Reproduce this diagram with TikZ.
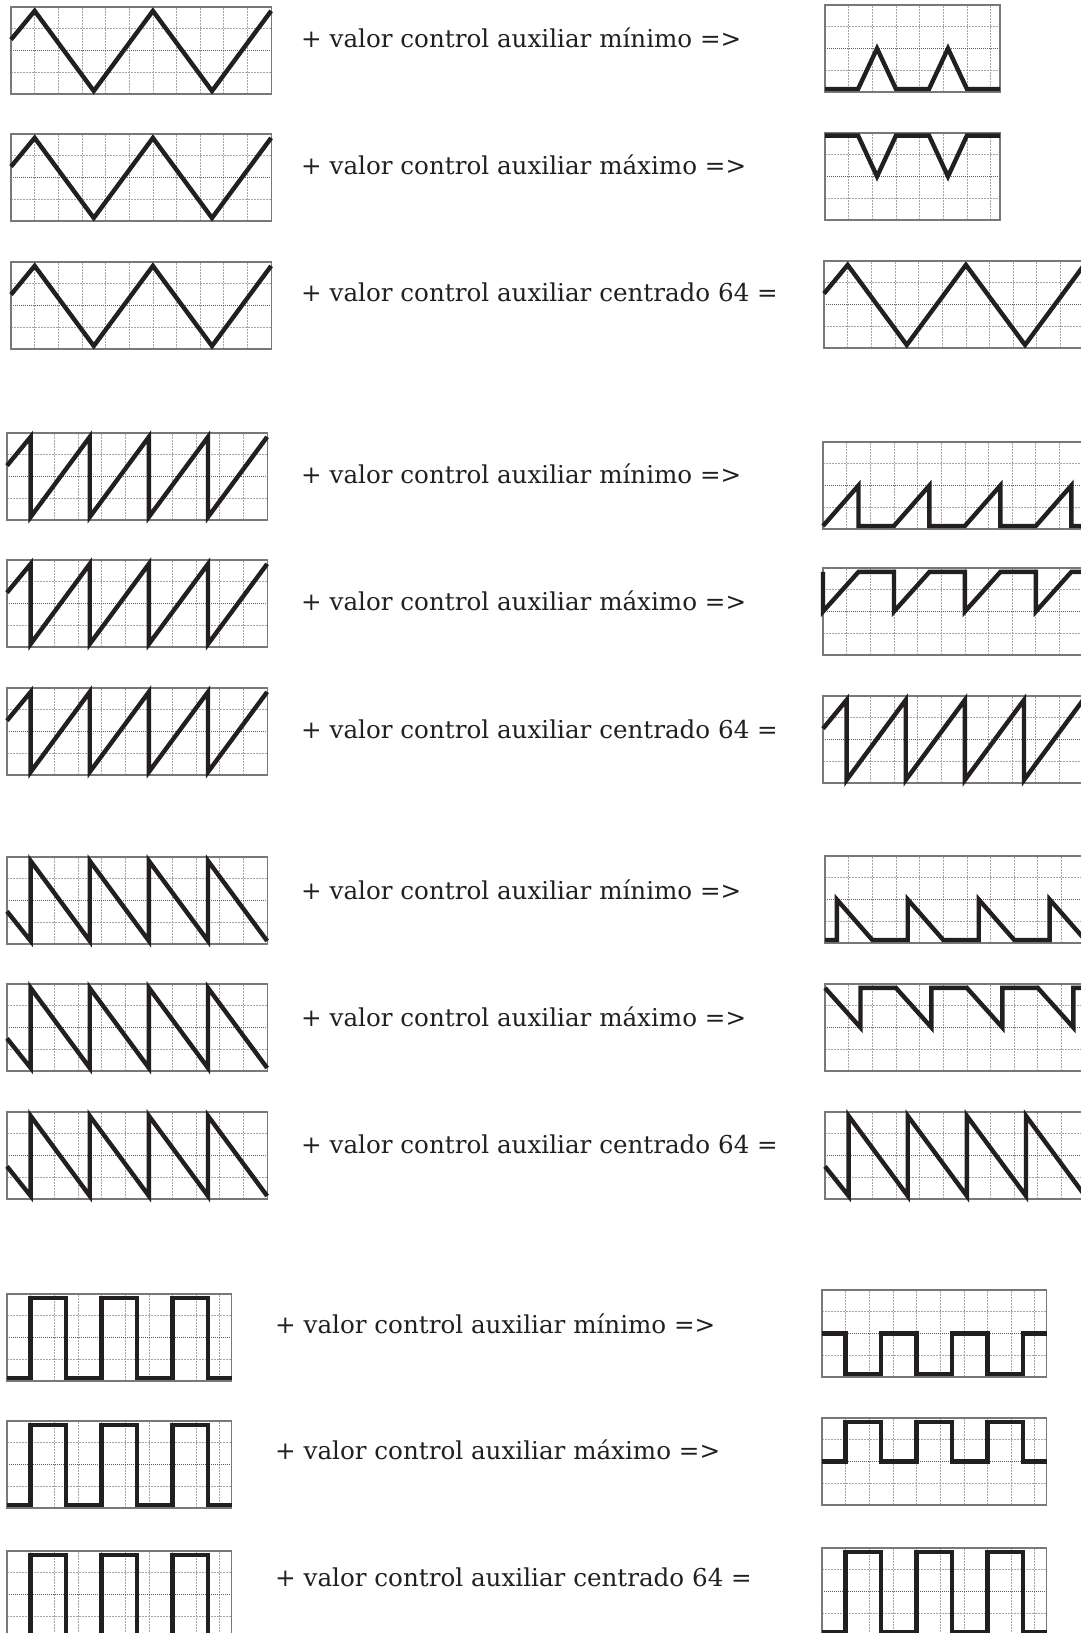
\documentclass[tikz,border=0pt]{standalone}
\usepackage{fontspec}
\setmainfont{DejaVu Serif}
\usetikzlibrary{positioning}
\definecolor{gridc}{RGB}{165,165,165}
\definecolor{midc}{RGB}{90,90,90}
\definecolor{framec}{RGB}{120,120,120}
\definecolor{wavec}{RGB}{35,31,32}
\tikzset{
  gridline/.style={gridc,line width=0.8pt,dash pattern=on 2pt off 1pt},
  gridmid/.style={midc,line width=0.9pt,dash pattern=on 1pt off 1pt},
  frame/.style={framec,line width=1.2pt},
  wave/.style={wavec,line width=4.4pt,line join=miter},
  lbl/.style={anchor=base west,inner sep=0pt,text=wavec,
    font=\fontsize{24.6}{29}\selectfont},
}
\newcommand{\wvhi}{3.82}
\newcommand{\wvlo}{0.14}
% waves, in grid units (x = columns, y = rows from the bottom)
\newcommand{\wtri}{(0,2.5) -- (1,\wvhi) -- (3.5,\wvlo) -- (6,\wvhi) -- (8.5,\wvlo) -- (11,\wvhi)}
\newcommand{\wtrimin}{(0,\wvlo) -- (1.4,\wvlo) -- (2.2,2) -- (3,\wvlo) -- (4.4,\wvlo) -- (5.2,2) -- (6,\wvlo) -- (7.4,\wvlo)}
\newcommand{\wtrimax}{(0,3.88) -- (1.4,3.88) -- (2.2,2) -- (3,3.88) -- (4.4,3.88) -- (5.2,2) -- (6,3.88) -- (7.4,3.88)}
\newcommand{\wsaw}{(0,2.5) -- (1,\wvhi) -- (1,\wvlo) -- (3.5,\wvhi) -- (3.5,\wvlo) -- (6,\wvhi) -- (6,\wvlo) -- (8.5,\wvhi) -- (8.5,\wvlo) -- (11,\wvhi)}
\newcommand{\wsawmin}{(0,\wvlo) -- (1.5,2) -- (1.5,\wvlo) -- (3,\wvlo) -- (4.5,2) -- (4.5,\wvlo) -- (6,\wvlo) -- (7.5,2) -- (7.5,\wvlo) -- (9,\wvlo) -- (10.5,2) -- (10.5,\wvlo) -- (11,\wvlo)}
\newcommand{\wsawmax}{(0,\wvhi) -- (0,2) -- (1.5,\wvhi) -- (3,\wvhi) -- (3,2) -- (4.5,\wvhi) -- (6,\wvhi) -- (6,2) -- (7.5,\wvhi) -- (9,\wvhi) -- (9,2) -- (10.5,\wvhi) -- (11,\wvhi)}
\newcommand{\wramp}{(0,1.5) -- (1,\wvlo) -- (1,\wvhi) -- (3.5,\wvlo) -- (3.5,\wvhi) -- (6,\wvlo) -- (6,\wvhi) -- (8.5,\wvlo) -- (8.5,\wvhi) -- (11,\wvlo)}
\newcommand{\wrampmin}{(0,\wvlo) -- (0.5,\wvlo) -- (0.5,2) -- (2,\wvlo) -- (3.5,\wvlo) -- (3.5,2) -- (5,\wvlo) -- (6.5,\wvlo) -- (6.5,2) -- (8,\wvlo) -- (9.5,\wvlo) -- (9.5,2) -- (11,\wvlo)}
\newcommand{\wrampmax}{(0,\wvhi) -- (1.5,2) -- (1.5,\wvhi) -- (3,\wvhi) -- (4.5,2) -- (4.5,\wvhi) -- (6,\wvhi) -- (7.5,2) -- (7.5,\wvhi) -- (9,\wvhi) -- (10.5,2) -- (10.5,\wvhi) -- (11,\wvhi)}
\newcommand{\wsq}{(0,\wvlo) -- (1,\wvlo) -- (1,\wvhi) -- (2.5,\wvhi) -- (2.5,\wvlo) -- (4,\wvlo) -- (4,\wvhi) -- (5.5,\wvhi) -- (5.5,\wvlo) -- (7,\wvlo) -- (7,\wvhi) -- (8.5,\wvhi) -- (8.5,\wvlo) -- (9.5,\wvlo)}
\newcommand{\wsqmin}{(0,2) -- (1,2) -- (1,\wvlo) -- (2.5,\wvlo) -- (2.5,2) -- (4,2) -- (4,\wvlo) -- (5.5,\wvlo) -- (5.5,2) -- (7,2) -- (7,\wvlo) -- (8.5,\wvlo) -- (8.5,2) -- (9.5,2)}
\newcommand{\wsqmax}{(0,2) -- (1,2) -- (1,\wvhi) -- (2.5,\wvhi) -- (2.5,2) -- (4,2) -- (4,\wvhi) -- (5.5,\wvhi) -- (5.5,2) -- (7,2) -- (7,\wvhi) -- (8.5,\wvhi) -- (8.5,2) -- (9.5,2)}
% one scope screen: left x, top y, columns, wave
\newcommand{\oscbox}[4]{%
  \begin{scope}[shift={(#1,#2+87)},x=23.65pt,y=21.75pt]
    \pgfmathtruncatemacro{\ncol}{#3-0.01}
    \foreach \c in {1,...,\ncol} \draw[gridline] (\c,0) -- (\c,4);
    \draw[gridline] (0,1) -- (#3,1) (0,3) -- (#3,3);
    \draw[gridmid] (0,2) -- (#3,2);
    \draw[frame] (0,0) rectangle (#3,4);
    \draw[wave] #4;
  \end{scope}}

\begin{document}
\begin{tikzpicture}[x=1pt,y=-1pt]
  \useasboundingbox (0,0) rectangle (1081,1633);
  \fill[white] (0,0) rectangle (1081,1633);
  \clip (0,0) rectangle (1081,1633);

  % ── triangle ─────────────────────────────────────────────
  \oscbox{11}{7}{11}{\wtri}
  \oscbox{825}{5}{7.4}{\wtrimin}
  \node[lbl] (tmin) at (301,47) {+ valor control auxiliar mínimo =>};

  \oscbox{11}{134}{11}{\wtri}
  \oscbox{825}{133}{7.4}{\wtrimax}
  \node[lbl] (tmax) at (301,174) {+ valor control auxiliar máximo =>};

  \oscbox{11}{262}{11}{\wtri}
  \oscbox{824}{261}{11}{\wtri}
  \node[lbl] (tmid) at (301,301) {+ valor control auxiliar centrado 64 =};

  % ── sawtooth up ──────────────────────────────────────────
  \oscbox{7}{433}{11}{\wsaw}
  \oscbox{823}{442}{11}{\wsawmin}
  \node[lbl] (smin) at (301,483) {+ valor control auxiliar mínimo =>};

  \oscbox{7}{560}{11}{\wsaw}
  \oscbox{823}{568}{11}{\wsawmax}
  \node[lbl] (smax) at (301,610) {+ valor control auxiliar máximo =>};

  \oscbox{7}{688}{11}{\wsaw}
  \oscbox{823}{696}{11}{\wsaw}
  \node[lbl] (smid) at (301,738) {+ valor control auxiliar centrado 64 =};

  % ── sawtooth down ────────────────────────────────────────
  \oscbox{7}{857}{11}{\wramp}
  \oscbox{825}{856}{11}{\wrampmin}
  \node[lbl] (rmin) at (301,899) {+ valor control auxiliar mínimo =>};

  \oscbox{7}{984}{11}{\wramp}
  \oscbox{825}{984}{11}{\wrampmax}
  \node[lbl] (rmax) at (301,1026) {+ valor control auxiliar máximo =>};

  \oscbox{7}{1112}{11}{\wramp}
  \oscbox{825}{1112}{11}{\wramp}
  \node[lbl] (rmid) at (301,1153) {+ valor control auxiliar centrado 64 =};

  % ── square ───────────────────────────────────────────────
  \oscbox{7}{1294}{9.5}{\wsq}
  \oscbox{822}{1290}{9.5}{\wsqmin}
  \node[lbl] (qmin) at (275,1333) {+ valor control auxiliar mínimo =>};

  \oscbox{7}{1421}{9.5}{\wsq}
  \oscbox{822}{1418}{9.5}{\wsqmax}
  \node[lbl] (qmax) at (275,1459) {+ valor control auxiliar máximo =>};

  \oscbox{7}{1551}{9.5}{\wsq}
  \oscbox{822}{1548}{9.5}{\wsq}
  \node[lbl] (qmid) at (275,1586) {+ valor control auxiliar centrado 64 =};
\end{tikzpicture}
\end{document}
